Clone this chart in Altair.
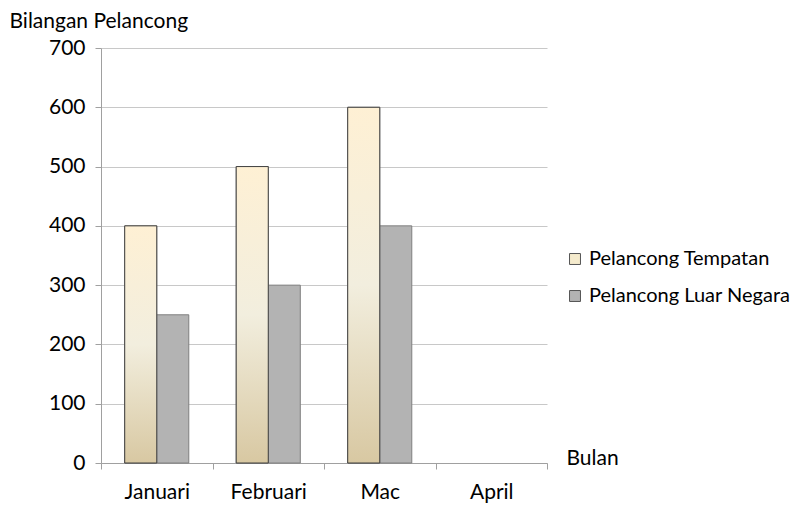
import altair as alt
import pandas as pd

months = ["Januari", "Februari", "Mac", "April"]
series = ["Pelancong Tempatan", "Pelancong Luar Negara"]
tempatan = [400, 500, 600, None]
luar = [250, 300, 400, None]

rows = []
for i, m in enumerate(months):
    if tempatan[i] is not None:
        rows.append({"Bulan": m, "Siri": series[0], "Nilai": tempatan[i]})
    if luar[i] is not None:
        rows.append({"Bulan": m, "Siri": series[1], "Nilai": luar[i]})
df = pd.DataFrame(rows)

FONT = "Lato"
FS = 21

gradient = {
    "gradient": "linear",
    "x1": 0, "y1": 0, "x2": 0, "y2": 1,
    "stops": [
        {"offset": 0, "color": "#FEF0D4"},
        {"offset": 0.5, "color": "#F2EEDE"},
        {"offset": 1, "color": "#D8C8A2"},
    ],
}

x = alt.X("Bulan:N", sort=months, scale=alt.Scale(domain=months, paddingInner=0, paddingOuter=0),
          axis=alt.Axis(title="Bulan", tickBand="extent", labelAngle=0, labelFontSize=FS,
                        labelFont=FONT, labelColor="#000000", labelPadding=12,
                        tickSize=6, tickColor="#A0A0A0", domainColor="#A0A0A0",
                        titleFont=FONT, titleFontSize=FS, titleFontWeight="normal",
                        titleColor="#000000", titleAnchor="start", titleAlign="left",
                        titleBaseline="middle", titleX=465, titleY=-5, grid=False))
xo = alt.XOffset("Siri:N", sort=series, scale=alt.Scale(domain=series, paddingInner=0, paddingOuter=0.74))
y = alt.Y("Nilai:Q", scale=alt.Scale(domain=[0, 700]),
          axis=alt.Axis(title="Bilangan Pelancong", values=list(range(0, 701, 100)),
                        labelFontSize=FS, labelFont=FONT, labelColor="#000000", labelPadding=10,
                        tickSize=6, tickColor="#A0A0A0", domainColor="#A0A0A0",
                        gridColor="#C8C8C8", titleAngle=0, titleFont=FONT, titleFontSize=FS,
                        titleFontWeight="normal", titleColor="#000000", titleAlign="left",
                        titleBaseline="bottom", titleX=-92, titleY=-17))

base = alt.Chart(df)

bars = base.mark_bar(stroke="#7F7F7F", strokeWidth=1).encode(
    x=x, xOffset=xo, y=y,
    color=alt.Color("Siri:N", sort=series,
                    scale=alt.Scale(domain=series, range=["#F5EBCD", "#B3B3B3"]),
                    legend=alt.Legend(title=None, orient="none", legendX=464, legendY=201,
                                      labelFont=FONT, labelFontSize=20, labelColor="#000000",
                                      labelLimit=400,
                                      symbolType="square", symbolSize=120, symbolStrokeColor="#555555",
                                      symbolStrokeWidth=1, rowPadding=17, labelOffset=4)),
)

grad = base.transform_filter(alt.datum.Siri == series[0]).mark_bar(
    fill=gradient, stroke="#404040", strokeWidth=1
).encode(x=x, xOffset=xo, y=y)

chart = alt.layer(bars, grad).properties(
    width=446, height=415,
    autosize=alt.AutoSizeParams(type="none"),
    padding={"left": 93, "top": 40, "right": 247, "bottom": 40},
    background="white",
).configure_view(stroke=None)

chart.save("out.html", embed_options={"renderer": "svg", "actions": False})
